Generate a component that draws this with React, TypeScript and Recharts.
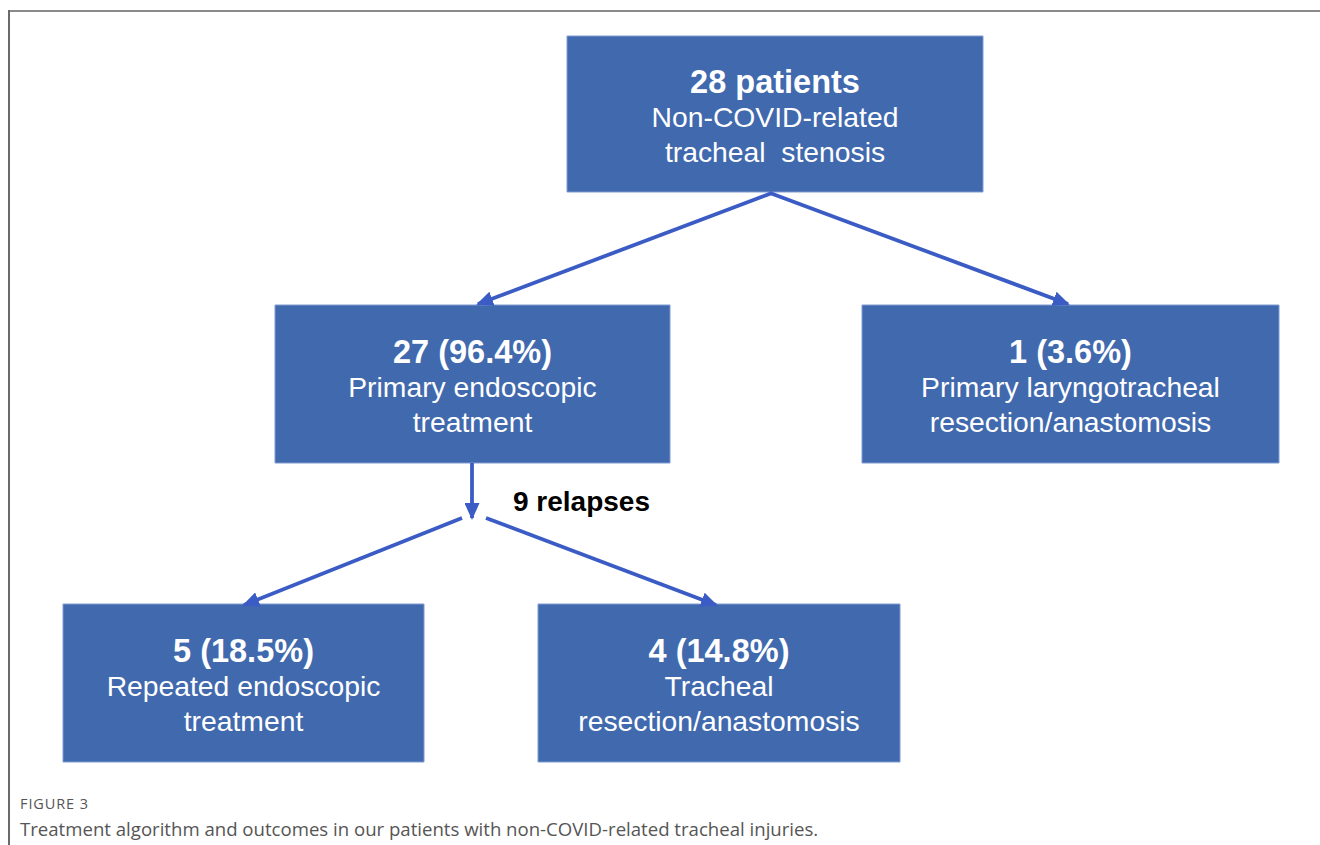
import React from 'react';
import { ComposedChart, XAxis, YAxis, Scatter, ReferenceArea, ReferenceLine } from 'recharts';

// flowchart nodes (layout in page units, texts separately)
const boxTitles = ['28 patients', '27 (96.4%)', '1 (3.6%)', '5 (18.5%)', '4 (14.8%)'];
const boxSubtitles = [
  ['Non-COVID-related', 'tracheal  stenosis'],
  ['Primary endoscopic', 'treatment'],
  ['Primary laryngotracheal', 'resection/anastomosis'],
  ['Repeated endoscopic', 'treatment'],
  ['Tracheal', 'resection/anastomosis'],
];
const boxLeft = [567, 275, 862, 63, 538];
const boxRight = [983, 670, 1279, 424, 900];
const boxTop = [36, 305, 305, 604, 604];
const boxBottom = [192, 463, 463, 762, 762];

// arrows: start and end points
const arrowStartX = [772, 770, 472, 462, 486];
const arrowStartY = [193, 193, 463, 518, 518];
const arrowEndX = [478, 1068, 472, 244, 716];
const arrowEndY = [304, 304, 518, 605, 605];

const relapseLabel = '9 relapses';
const relapseX = 513;
const relapseY = 511;

const W = 1320;
const H = 845;
const BOX = '#4169ae';
const ARROW = '#3b5cc4';
const FONT = '"Liberation Sans", Arial, sans-serif';

const nodes = boxTitles.map((title, i) => ({
  x: (boxLeft[i] + boxRight[i]) / 2,
  y: (boxTop[i] + boxBottom[i]) / 2,
  title,
  lines: boxSubtitles[i],
}));

const labels = [{ x: relapseX, y: relapseY, text: relapseLabel }];

const NodeText = (props: any) => {
  const { cx, cy, payload } = props;
  return (
    <g>
      <text x={cx} y={cy - 21} textAnchor="middle" fill="#fff" fontFamily={FONT} fontWeight="bold" fontSize={32.5}>
        {payload.title}
      </text>
      {payload.lines.map((l: string, k: number) => (
        <text
          key={k}
          x={cx}
          y={cy + 13 + k * 34.5}
          textAnchor="middle"
          fill="#fff"
          fontFamily={FONT}
          fontSize={28.3}
          style={{ whiteSpace: 'pre' }}
        >
          {l}
        </text>
      ))}
    </g>
  );
};

const PlainLabel = (props: any) => {
  const { cx, cy, payload } = props;
  return (
    <text x={cx} y={cy} fill="#000" fontFamily={FONT} fontWeight="bold" fontSize={28}>
      {payload.text}
    </text>
  );
};

export default function App() {
  return (
    <div style={{ position: 'absolute', left: 0, top: 0, width: W, height: H, background: '#fff', overflow: 'hidden' }}>
      <div style={{ position: 'absolute', left: 8, top: 10, width: W - 8, height: 1.5, background: '#8a8a8a' }} />
      <div style={{ position: 'absolute', left: 8, top: 10, width: 1.5, height: H - 10, background: '#6a6a6a' }} />
      <ComposedChart width={W} height={H} margin={{ top: 0, right: 0, bottom: 0, left: 0 }} style={{ position: 'absolute', left: 0, top: 0 }}>
        <defs>
          <marker id="arrowHead" markerUnits="userSpaceOnUse" markerWidth={17} markerHeight={15} refX={15} refY={7.5} orient="auto">
            <path d="M0,0 L17,7.5 L0,15 z" fill={ARROW} />
          </marker>
        </defs>
        <XAxis type="number" dataKey="x" domain={[0, W]} hide allowDataOverflow />
        <YAxis type="number" dataKey="y" domain={[0, H]} reversed hide allowDataOverflow />
        {arrowStartX.map((sx, i) => (
          <ReferenceLine
            key={'a' + i}
            segment={[
              { x: sx, y: arrowStartY[i] },
              { x: arrowEndX[i], y: arrowEndY[i] },
            ]}
            stroke={ARROW}
            strokeWidth={3.8}
            markerEnd="url(#arrowHead)"
            ifOverflow="visible"
          />
        ))}
        {boxLeft.map((l, i) => (
          <ReferenceArea
            key={'b' + i}
            x1={l}
            x2={boxRight[i]}
            y1={boxTop[i]}
            y2={boxBottom[i]}
            fill={BOX}
            fillOpacity={1}
            stroke="#7f9bd2"
            strokeWidth={1}
            ifOverflow="visible"
          />
        ))}
        <Scatter data={nodes} shape={NodeText} isAnimationActive={false} />
        <Scatter data={labels} shape={PlainLabel} isAnimationActive={false} />
      </ComposedChart>
      <div style={{ position: 'absolute', left: 20, top: 794, fontFamily: '"Open Sans", sans-serif', fontSize: 14.5, color: '#555', letterSpacing: 0.9 }}>
        FIGURE 3
      </div>
      <div style={{ position: 'absolute', left: 20, top: 816, fontFamily: '"Open Sans", sans-serif', fontSize: 18.6, color: '#555' }}>
        Treatment algorithm and outcomes in our patients with non-COVID-related tracheal injuries.
      </div>
    </div>
  );
}
